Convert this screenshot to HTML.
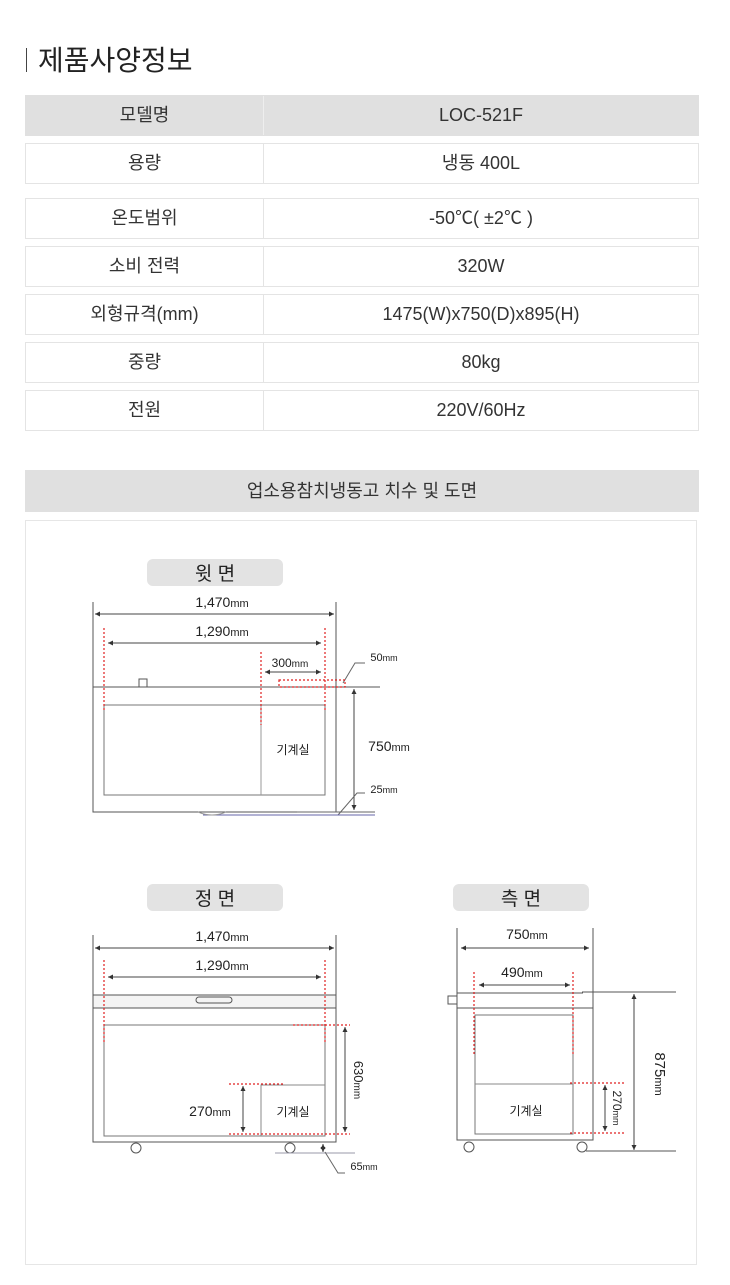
<!DOCTYPE html>
<html><head><meta charset="utf-8"><style>
*{margin:0;padding:0;box-sizing:border-box}
body{width:730px;height:1285px;background:#fff;position:relative;font-family:"Liberation Sans","Noto Sans CJK KR",sans-serif;color:#222;overflow:hidden}
.t{position:absolute;left:38px;top:39px;font-size:28px;color:#222}
.bar{position:absolute;left:26px;top:48px;width:1px;height:24px;background:#444}
.row{position:absolute;left:25px;width:674px;height:41px;border:1px solid #e4e4e4;font-size:18px;color:#333}
.row div{position:absolute;top:0;line-height:39px;text-align:center}
.row .a{left:0;width:238px;border-right:1px solid #e4e4e4;height:39px}
.row .b{left:238px;width:434px}
.g{background:#e0e0e0;border-color:#e0e0e0}
.g .a{border-right:1px solid #eee}
.sec{position:absolute;left:25px;top:470px;width:674px;height:42px;background:#e0e0e0;text-align:center;line-height:42px;font-size:18px;color:#333}
.box{position:absolute;left:25px;top:520px;width:672px;height:745px;border:1px solid #e6e6e6}
svg{position:absolute;left:0;top:0}
</style></head><body>
<div class="bar"></div><div class="t">제품사양정보</div>
<div class="row g" style="top:95px"><div class="a">모델명</div><div class="b">LOC-521F</div></div>
<div class="row" style="top:143px"><div class="a">용량</div><div class="b">냉동 400L</div></div>
<div class="row" style="top:198px"><div class="a">온도범위</div><div class="b">-50℃( ±2℃ )</div></div>
<div class="row" style="top:246px"><div class="a">소비 전력</div><div class="b">320W</div></div>
<div class="row" style="top:294px"><div class="a">외형규격(mm)</div><div class="b">1475(W)x750(D)x895(H)</div></div>
<div class="row" style="top:342px"><div class="a">중량</div><div class="b">80kg</div></div>
<div class="row" style="top:390px"><div class="a">전원</div><div class="b">220V/60Hz</div></div>
<div class="sec">업소용참치냉동고 치수 및 도면</div>
<div class="box"></div>
<svg width="730" height="1285" viewBox="0 0 730 1285" font-family="Liberation Sans, Noto Sans CJK KR, sans-serif">
<defs><marker id="ar" markerWidth="6" markerHeight="6" refX="5" refY="3" orient="auto-start-reverse"><path d="M0,0.5 L5,3 L0,5.5z" fill="#333"/></marker></defs>
<g fill="#e3e3e3"><rect x="147" y="559" width="136" height="27" rx="6"/><rect x="147" y="884" width="136" height="27" rx="6"/><rect x="453" y="884" width="136" height="27" rx="6"/></g>
<g font-size="19" fill="#222" text-anchor="middle"><text x="215" y="580">윗 면</text><text x="215" y="905">정 면</text><text x="521" y="905">측 면</text></g>
<!-- TOP VIEW -->
<g stroke="#555" fill="none" stroke-width="1">
<path d="M93 602V812H336V602"/><path d="M93 687H380"/>
<rect x="104" y="705" width="221" height="90" stroke="#777"/><path d="M261 705V795" stroke="#999"/>
<rect x="139" y="679" width="8" height="8"/>
<g stroke="#444" marker-start="url(#ar)" marker-end="url(#ar)">
<path d="M95 614H334"/><path d="M108 643H321"/><path d="M265 672H321"/><path d="M354 689V810"/>
</g>
<path d="M343 683L355 663H365M338 815L357 793H365" stroke="#666"/>
<path d="M297 812H375" stroke="#666"/><path d="M203 815H375" stroke="#66a"/>
<path d="M198 812Q212 818 226 812" stroke="#999"/>
</g>
<g stroke="#e02020" stroke-dasharray="2,2" fill="none" stroke-width="1.2">
<path d="M104 628V710M325 628V710M261 652V725"/><rect x="279" y="680" width="66" height="7"/>
</g>
<g fill="#222" font-size="14" text-anchor="middle">
<text x="222" y="607">1,470<tspan font-size="11">mm</tspan></text>
<text x="222" y="636">1,290<tspan font-size="11">mm</tspan></text>
<text x="290" y="667" font-size="12">300<tspan font-size="10">mm</tspan></text>
<text x="293" y="754" font-size="12">기계실</text>
<text x="389" y="751" font-size="14">750<tspan font-size="11">mm</tspan></text>
<text x="384" y="661" font-size="11">50<tspan font-size="9">mm</tspan></text>
<text x="384" y="793" font-size="11">25<tspan font-size="9">mm</tspan></text>
</g>
<!-- FRONT -->
<g stroke="#555" fill="none" stroke-width="1">
<path d="M93 935V1142H336V935"/><rect x="93" y="995" width="243" height="13" stroke="#555" fill="#f4f4f4"/>
<rect x="196" y="997" width="36" height="6" rx="3"/>
<rect x="104" y="1025" width="221" height="111" stroke="#777"/><path d="M261 1136V1085H325" stroke="#888"/>
<g stroke="#444" marker-start="url(#ar)" marker-end="url(#ar)">
<path d="M95 948H334"/><path d="M108 977H321"/><path d="M243 1086V1132"/><path d="M345 1027V1132"/><path d="M323 1144V1152"/>
</g>
<circle cx="136" cy="1148" r="5"/><circle cx="290" cy="1148" r="5"/>
<path d="M275 1153H355" stroke="#99a"/><path d="M325 1152L338 1173H345" stroke="#666"/>
</g>
<g stroke="#e02020" stroke-dasharray="2,2" fill="none" stroke-width="1.2">
<path d="M104 960V1044M325 960V1044M293 1025H350M229 1084H285M229 1134H350"/>
</g>
<g fill="#222" font-size="14" text-anchor="middle">
<text x="222" y="941">1,470<tspan font-size="11">mm</tspan></text>
<text x="222" y="970">1,290<tspan font-size="11">mm</tspan></text>
<text x="210" y="1116">270<tspan font-size="11">mm</tspan></text>
<text x="293" y="1116" font-size="12">기계실</text>
<text x="364" y="1170" font-size="11">65<tspan font-size="9">mm</tspan></text>
<text transform="translate(354,1080) rotate(90)" font-size="13">630<tspan font-size="10">mm</tspan></text>
</g>
<!-- SIDE -->
<g stroke="#555" fill="none" stroke-width="1">
<path d="M457 928V1140H593V928"/><path d="M457 993H583M457 1008H593M582 992H676" />
<rect x="448" y="996" width="9" height="8"/>
<rect x="475" y="1015" width="98" height="119" stroke="#777"/><path d="M475 1084H573" stroke="#888"/>
<g stroke="#444" marker-start="url(#ar)" marker-end="url(#ar)">
<path d="M461 948H589"/><path d="M479 985H570"/><path d="M605 1085V1131"/><path d="M634 994V1150"/>
</g>
<path d="M586 1151H676"/>
<circle cx="469" cy="1147" r="5"/><circle cx="582" cy="1147" r="5"/>
</g>
<g stroke="#e02020" stroke-dasharray="2,2" fill="none" stroke-width="1.2">
<path d="M474 972V1055M573 972V1055M570 1083H624M570 1133H624"/>
</g>
<g fill="#222" font-size="14" text-anchor="middle">
<text x="527" y="939">750<tspan font-size="11">mm</tspan></text>
<text x="522" y="977">490<tspan font-size="11">mm</tspan></text>
<text x="526" y="1115" font-size="12">기계실</text>
<text transform="translate(613,1108) rotate(90)" font-size="12">270<tspan font-size="9">mm</tspan></text>
<text transform="translate(655,1074) rotate(90)" font-size="15">875<tspan font-size="11">mm</tspan></text>
</g>
</svg>
</body></html>
